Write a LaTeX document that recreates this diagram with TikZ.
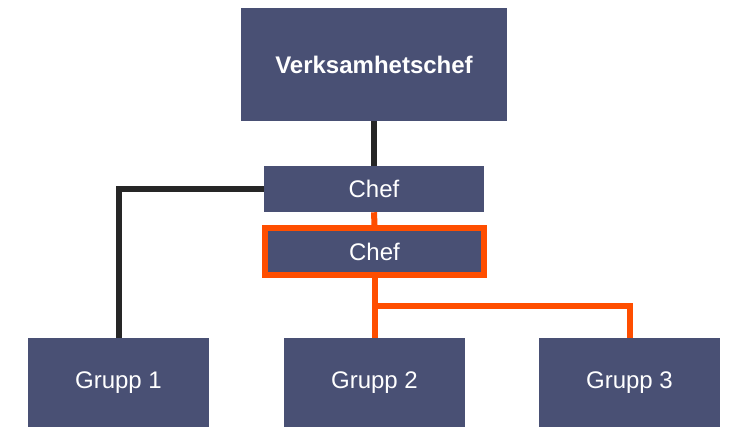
\documentclass[tikz,border=0pt]{standalone}
\usepackage{fontspec}
\setmainfont{Liberation Sans}
\definecolor{boxblue}{RGB}{73,80,116}
\definecolor{linkorange}{RGB}{255,78,0}
\definecolor{linkblack}{RGB}{38,38,38}
\begin{document}
\begin{tikzpicture}[x=0.75pt,y=-0.75pt]
        \tikzstyle{unit}=[rectangle,fill=boxblue,text=white,inner sep=0pt,font=\fontsize{18}{21}\selectfont]
        \tikzstyle{chefbox}=[unit,minimum width=165pt,minimum height=34.5pt]
        \tikzstyle{gruppbox}=[unit,minimum width=135.75pt,minimum height=66.75pt]
        \tikzstyle{blacklink}=[draw=linkblack,line width=4.5pt]
        \tikzstyle{orangelink}=[draw=linkorange,line width=4.5pt]
        \useasboundingbox (0,0) rectangle (729,427);
       \begin{scope}
         \node [unit,minimum width=199.5pt,minimum height=84.75pt,font=\fontsize{18}{21}\selectfont\bfseries] (vc) at (374,64.5) {Verksamhetschef};
         \node [chefbox] (chef1) at (374,189) {Chef};
         \node [chefbox,draw=linkorange,line width=4.2pt,minimum width=164.6pt,minimum height=35.6pt] (chef2) at (374.5,251.5) {Chef};
         \node [gruppbox] (g1) at (118.5,382.5) {Grupp 1};
         \node [gruppbox] (g2) at (374.5,382.5) {Grupp 2};
         \node [gruppbox] (g3) at (629.5,382.5) {Grupp 3};
         \coordinate (split) at (374.5,306);
         \path[blacklink] (vc.south) -- (chef1.north);
         \path[blacklink] (chef1.west) -| (g1.north);
         \path[orangelink] (chef1.south) -- (chef2.north);
         \path[orangelink] (chef2.south) -- (g2.north);
         \path[orangelink] (split) -| (g3.north);
        \end{scope}
      \end{tikzpicture}
\end{document}
